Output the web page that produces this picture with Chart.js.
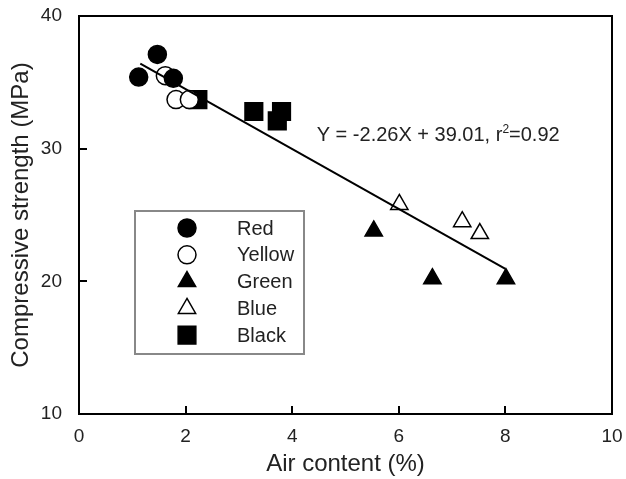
<!DOCTYPE html>
<html>
<head>
<meta charset="utf-8">
<script src="https://cdn.jsdelivr.net/npm/chart.js@4/dist/chart.umd.min.js"></script>
<style>
  html, body { margin: 0; padding: 0; background: #fff; }
  canvas { display: block; }
</style>
</head>
<body>
<canvas id="chart" width="626" height="479"></canvas>
<script>
// Air content (%) vs compressive strength (MPa), one group per colour
const redAir = [1.12, 1.47, 1.77];
const redStrength = [35.4, 37.1, 35.3];
const yellowAir = [1.62, 1.82, 2.07];
const yellowStrength = [35.5, 33.7, 33.7];
const greenAir = [5.53, 6.63, 8.01];
const greenStrength = [23.8, 20.2, 20.2];
const blueAir = [6.01, 7.19, 7.52];
const blueStrength = [25.8, 24.5, 23.6];
const blackAir = [2.23, 3.28, 3.80, 3.72];
const blackStrength = [33.7, 32.8, 32.8, 32.1];

// linear fit reported on the chart
const fitSlope = -2.26;
const fitIntercept = 39.01;
const fitR2 = 0.92;
const fitRange = [1.15, 8.0];

const xTicks = [0, 2, 4, 6, 8, 10];
const yTicks = [10, 20, 30, 40];

const FONT = "'Liberation Sans', Arial, sans-serif";
const INK = "#222";

const pts = (xs, ys) => xs.map((x, i) => ({ x, y: ys[i] }));

const groups = [
  { label: "Red", data: pts(redAir, redStrength), style: "circle", radius: 9, fill: "#000" },
  { label: "Yellow", data: pts(yellowAir, yellowStrength), style: "circle", radius: 9, fill: "#fff" },
  { label: "Green", data: pts(greenAir, greenStrength), style: "triangle", radius: 10, fill: "#000" },
  { label: "Blue", data: pts(blueAir, blueStrength), style: "triangle", radius: 10, fill: "#fff" },
  { label: "Black", data: pts(blackAir, blackStrength), style: "rect", radius: 12.5, fill: "#000" },
];

const scatterSets = groups.map((g) => ({
  type: "scatter",
  label: g.label,
  data: g.data,
  pointStyle: g.style,
  pointRadius: g.radius,
  pointHoverRadius: g.radius,
  pointBackgroundColor: g.fill,
  pointBorderColor: "#000",
  pointBorderWidth: 1.5,
  order: 1,
}));

const fitLine = {
  type: "line",
  label: "fit",
  data: fitRange.map((x) => ({ x, y: fitSlope * x + fitIntercept })),
  borderColor: "#000",
  borderWidth: 2,
  pointRadius: 0,
  fill: false,
  order: 0,
};

// box frame, inward ticks, x tick labels, legend and equation text
const decorations = {
  id: "decorations",
  afterDatasetsDraw(chart) {
    const { ctx, chartArea: a, scales } = chart;
    ctx.save();

    ctx.strokeStyle = "#000";
    ctx.lineWidth = 2;
    ctx.strokeRect(a.left, a.top, a.right - a.left, a.bottom - a.top);

    ctx.beginPath();
    xTicks.slice(1, -1).forEach((v) => {
      const px = Math.round(scales.x.getPixelForValue(v));
      ctx.moveTo(px, a.bottom);
      ctx.lineTo(px, a.bottom - 8);
    });
    yTicks.slice(1, -1).forEach((v) => {
      const py = Math.round(scales.y.getPixelForValue(v));
      ctx.moveTo(a.left, py);
      ctx.lineTo(a.left + 8, py);
    });
    ctx.stroke();

    ctx.fillStyle = INK;
    ctx.font = "19px " + FONT;
    ctx.textAlign = "center";
    ctx.textBaseline = "middle";
    xTicks.forEach((v) => {
      ctx.fillText(String(v), scales.x.getPixelForValue(v), a.bottom + 23);
    });
    ctx.textAlign = "left";

    // legend box
    const box = { left: 135, top: 211, right: 304, bottom: 354 };
    ctx.strokeStyle = "#888";
    ctx.lineWidth = 2;
    ctx.strokeRect(box.left, box.top, box.right - box.left, box.bottom - box.top);
    ctx.font = "20px " + FONT;
    groups.forEach((g, i) => {
      const y = 228 + i * 26.8;
      ctx.fillStyle = g.fill;
      ctx.strokeStyle = "#000";
      ctx.lineWidth = 1.5;
      Chart.helpers.drawPoint(ctx, { pointStyle: g.style, radius: g.radius, rotation: 0, borderWidth: 1.5 }, 187, y);
      ctx.fillStyle = INK;
      ctx.fillText(g.label, 237, y + 1);
    });

    // fit equation
    const tx = scales.x.getPixelForValue(4.46);
    const ty = scales.y.getPixelForValue(30.58);
    ctx.font = "20px " + FONT;
    ctx.textBaseline = "alphabetic";
    const head = `Y = ${fitSlope}X + ${fitIntercept.toFixed(2)}, r`;
    ctx.fillText(head, tx, ty);
    let w = ctx.measureText(head).width;
    ctx.font = "12px " + FONT;
    ctx.fillText("2", tx + w, ty - 8);
    w += ctx.measureText("2").width;
    ctx.font = "20px " + FONT;
    ctx.fillText(`=${fitR2.toFixed(2)}`, tx + w, ty);

    ctx.restore();
  },
};

new Chart(document.getElementById("chart"), {
  data: { datasets: [fitLine, ...scatterSets] },
  options: {
    responsive: false,
    animation: false,
    layout: { padding: { top: 16, right: 11, left: 0, bottom: 0 } },
    plugins: { legend: { display: false }, tooltip: { enabled: false } },
    scales: {
      x: {
        type: "linear",
        min: 0,
        max: 10,
        afterBuildTicks: (s) => { s.ticks = xTicks.map((value) => ({ value })); },
        afterFit: (s) => { s.height = 65; s.paddingLeft = 0; s.paddingRight = 0; },
        grid: { display: false },
        border: { display: false },
        ticks: { display: false, padding: 0 },
        title: {
          display: true,
          text: "Air content (%)",
          color: INK,
          font: { family: FONT, size: 24 },
          padding: { top: 0, bottom: 0 },
        },
      },
      y: {
        type: "linear",
        min: 10,
        max: 40,
        afterBuildTicks: (s) => { s.ticks = yTicks.map((value) => ({ value })); },
        afterFit: (s) => { s.width = 79; s.paddingTop = 0; s.paddingBottom = 0; },
        grid: { display: false },
        border: { display: false },
        ticks: { color: INK, font: { family: FONT, size: 19 }, padding: 9 },
        title: {
          display: true,
          text: "Compressive strength (MPa)",
          color: INK,
          font: { family: FONT, size: 24 },
          padding: { top: 7, bottom: 0 },
        },
      },
    },
  },
  plugins: [decorations],
});
</script>
</body>
</html>
